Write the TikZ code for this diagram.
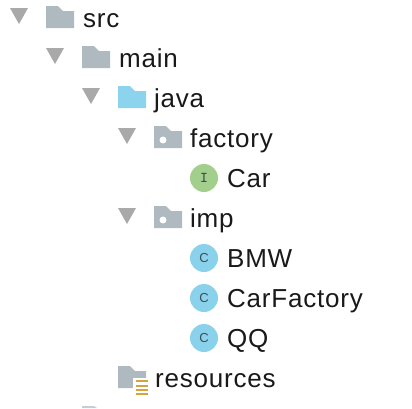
\documentclass[tikz,border=0pt]{standalone}
\usepackage{fontspec}
\setmainfont{Liberation Sans}
\definecolor{foldergray}{HTML}{AEB9C0}
\definecolor{folderblue}{HTML}{8CD3EE}
\definecolor{arrowgray}{HTML}{A9A9A9}
\definecolor{classblue}{HTML}{8AD2EC}
\definecolor{ifacegreen}{HTML}{A3CF8C}
\definecolor{stackorange}{HTML}{D4A53F}
\definecolor{icontext}{HTML}{3E4C55}
\tikzset{
  label/.style={anchor=base west,inner sep=0pt,text=black!90,font=\fontsize{26}{26}\selectfont\addfontfeature{LetterSpace=3}},
  badge/.style={circle,inner sep=0pt,minimum size=28pt,text=icontext},
}
% x y = top left corner of the folder
\newcommand{\folderat}[3]{
\fill[#3] (#1,#2) -- ++(12,0) -- ++(5,5) -- ++(11,0) -- ++(0,17) -- ++(-28,0) -- cycle;
}
% x y = top left corner of the triangle
\newcommand{\openmark}[2]{
\fill[arrowgray] (#1,#2) -- ++(18,0) -- ++(-9,16) -- cycle;
}
\begin{document}
\begin{tikzpicture}[x=1pt,y=-1pt]
\useasboundingbox (0,0) rectangle (412,408);
\openmark{10}{8}
\folderat{46}{6}{foldergray}
\node[label] (src) at (83,27) {src};
\openmark{46}{48}
\folderat{82}{46}{foldergray}
\node[label] (main) at (119,67) {main};
\openmark{82}{88}
\folderat{118}{86}{folderblue}
\node[label] (java) at (154,107) {java};
\openmark{118}{128}
\folderat{154}{126}{foldergray}
\fill[white] (163,140) circle (3.5);
\node[label] (factory) at (190,147) {factory};
\node[badge,fill=ifacegreen,font=\ttfamily\bfseries\fontsize{15}{15}\selectfont] (icar) at (204,178) {I};
\node[label] (car) at (227,187) {Car};
\openmark{118}{208}
\folderat{154}{206}{foldergray}
\fill[white] (163,220) circle (3.5);
\node[label] (imp) at (190,227) {imp};
\node[badge,fill=classblue,font=\fontsize{13}{13}\selectfont] (cbmw) at (204,258) {C};
\node[label] (bmw) at (227,267) {BMW};
\node[badge,fill=classblue,font=\fontsize{13}{13}\selectfont] (cfactory) at (204,298) {C};
\node[label] (carfactory) at (227,307) {CarFactory};
\node[badge,fill=classblue,font=\fontsize{13}{13}\selectfont] (cqq) at (204,338) {C};
\node[label] (qq) at (227,347) {QQ};
\folderat{118}{366}{foldergray}
\fill[white] (133,378) rectangle (150,396);
\foreach \y in {380,384.5,389,392.5}
  \fill[stackorange] (136,\y) rectangle (148,\y+2.4);
\node[label] (resources) at (155,387) {resources};
% next row, cut off by the edge
\fill[foldergray!70] (82,408) -- (82,406) -- (94,406) -- (97,408) -- cycle;
\end{tikzpicture}
\end{document}
